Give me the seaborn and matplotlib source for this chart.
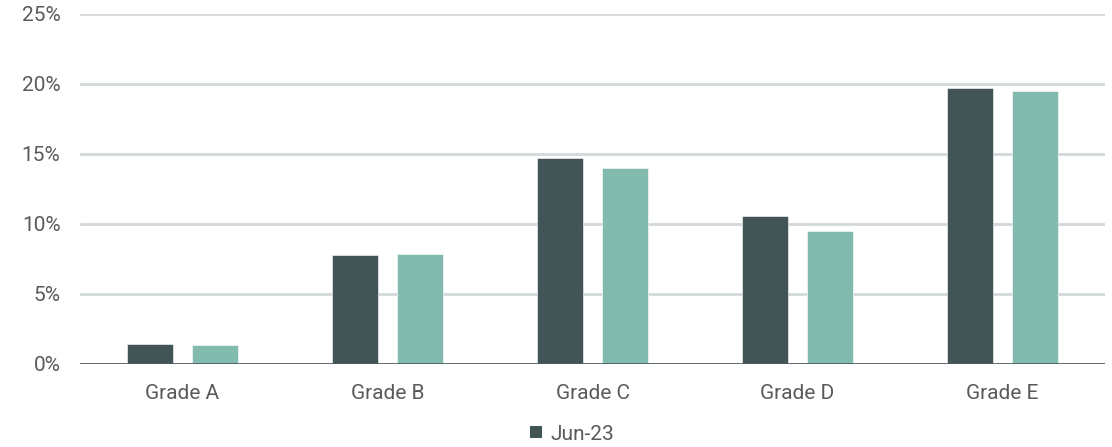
import matplotlib
matplotlib.use("Agg")
import matplotlib.pyplot as plt
from matplotlib.patches import Patch
import seaborn as sns
import pandas as pd

grades = ["Grade A", "Grade B", "Grade C", "Grade D", "Grade E"]
jun23 = [1.40, 7.74, 14.67, 10.54, 19.72]
prior = [1.31, 7.80, 13.98, 9.47, 19.47]
series_names = ["Jun-23", "Prior"]
y_ticks = [0, 5, 10, 15, 20, 25]

dark = "#435457"
green = "#82BBAD"
grid_col = "#D3D9DB"
text_col = "#5A5A5A"

df = pd.DataFrame({
    "grade": grades * 2,
    "value": jun23 + prior,
    "series": [series_names[0]] * len(grades) + [series_names[1]] * len(grades),
})

sns.set_style("white")
plt.rcParams["font.family"] = ["Roboto", "DejaVu Sans"]

fig = plt.figure(figsize=(11.12, 4.47), dpi=100)
ax = fig.add_axes([80 / 1112, 1 - 363.5 / 447, 1025 / 1112, (363.5 - 14) / 447])

sns.barplot(data=df, x="grade", y="value", hue="series",
            palette=[dark, green], saturation=1, width=0.64, gap=0.30,
            edgecolor="white", linewidth=0.4, ax=ax, legend=False, zorder=3)

ax.set_ylim(0, 25)
ax.set_xlim(-0.5, len(grades) - 0.5)
ax.set_yticks(y_ticks)
ax.set_yticklabels([f"{t}%" for t in y_ticks])
for t in y_ticks[1:]:
    ax.axhline(t, color=grid_col, lw=2, zorder=1)
ax.axhline(0, color="#4E5E60", lw=2, zorder=4)

for s in ax.spines.values():
    s.set_visible(False)
ax.set_xlabel("")
ax.set_ylabel("")
ax.tick_params(axis="y", length=0, pad=14, labelsize=15, labelcolor=text_col)
ax.tick_params(axis="x", length=0, pad=15, labelsize=15, labelcolor=text_col)

handles = [Patch(facecolor=dark, edgecolor="none")]
fig.legend(handles, [series_names[0]], loc="center", bbox_to_anchor=(572 / 1112, 1 - 434 / 447),
           frameon=False, fontsize=15, handlelength=0.55, handleheight=0.55,
           handletextpad=0.4, labelcolor=text_col)

fig.savefig("out.png", dpi=100)
